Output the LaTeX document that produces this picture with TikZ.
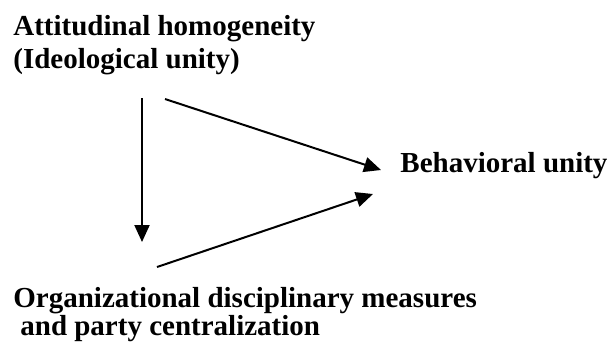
\documentclass[tikz,border=0pt]{standalone}
\usepackage{fontspec}
\setmainfont{Liberation Serif}
\usetikzlibrary{arrows.meta}
\begin{document}
\begin{tikzpicture}[x=0.5pt,y=-0.5pt,
  lbl/.style={font=\bfseries\fontsize{14.5}{16.5}\selectfont, inner sep=0pt, anchor=base west, align=left},
  arr/.style={line width=1pt, -{Triangle[length=8.5pt,width=7.5pt]}}]
\useasboundingbox (0,0) rectangle (608,345);
\node[lbl] (att) at (13,68) {Attitudinal homogeneity\\(Ideological unity)};
\node[lbl] (beh) at (400,172) {Behavioral unity};
\node[lbl, font=\bfseries\fontsize{14.5}{14}\selectfont] (org) at (13,335) {Organizational disciplinary measures\\\hspace*{3.5pt}and party centralization};
\coordinate (v1) at (142,98);
\coordinate (v2) at (142,242);
\coordinate (d1s) at (165,99);
\coordinate (d1e) at (381,170);
\coordinate (d2s) at (157,267);
\coordinate (d2e) at (373,194);
\draw[arr] (v1) -- (v2);
\draw[arr] (d1s) -- (d1e);
\draw[arr] (d2s) -- (d2e);
\end{tikzpicture}
\end{document}
